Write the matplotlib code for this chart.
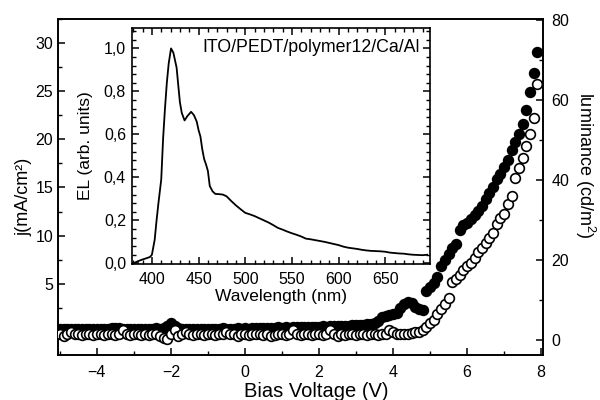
import matplotlib
matplotlib.use("Agg")
import matplotlib.pyplot as plt
from matplotlib.ticker import MultipleLocator, FuncFormatter

plt.rcParams["font.family"] = ["Liberation Sans", "DejaVu Sans"]
plt.rcParams["mathtext.fontset"] = "custom"
plt.rcParams["mathtext.rm"] = "Liberation Sans"

# bias sweep (V), 0.1 V steps
voltage = [
    -5.0, -4.9, -4.8, -4.7, -4.6, -4.5, -4.4, -4.3, -4.2, -4.1,
    -4.0, -3.9, -3.8, -3.7, -3.6, -3.5, -3.4, -3.3, -3.2, -3.1,
    -3.0, -2.9, -2.8, -2.7, -2.6, -2.5, -2.4, -2.3, -2.2, -2.1,
    -2.0, -1.9, -1.8, -1.7, -1.6, -1.5, -1.4, -1.3, -1.2, -1.1,
    -1.0, -0.9, -0.8, -0.7, -0.6, -0.5, -0.4, -0.3, -0.2, -0.1,
    0.0, 0.1, 0.2, 0.3, 0.4, 0.5, 0.6, 0.7, 0.8, 0.9,
    1.0, 1.1, 1.2, 1.3, 1.4, 1.5, 1.6, 1.7, 1.8, 1.9,
    2.0, 2.1, 2.2, 2.3, 2.4, 2.5, 2.6, 2.7, 2.8, 2.9,
    3.0, 3.1, 3.2, 3.3, 3.4, 3.5, 3.6, 3.7, 3.8, 3.9,
    4.0, 4.1, 4.2, 4.3, 4.4, 4.5, 4.6, 4.7, 4.8, 4.9,
    5.0, 5.1, 5.2, 5.3, 5.4, 5.5, 5.6, 5.7, 5.8, 5.9,
    6.0, 6.1, 6.2, 6.3, 6.4, 6.5, 6.6, 6.7, 6.8, 6.9,
    7.0, 7.1, 7.2, 7.3, 7.4, 7.5, 7.6, 7.7, 7.8, 7.9,
]

# current density j (mA/cm2), filled circles
current = [
    0.3, 0.35, 0.3, 0.3, 0.35, 0.3, 0.3, 0.35, 0.3, 0.3,
    0.3, 0.35, 0.3, 0.35, 0.4, 0.45, 0.4, 0.35, 0.3, 0.35,
    0.35, 0.3, 0.35, 0.3, 0.3, 0.35, 0.4, 0.35, 0.4, 0.6,
    0.9, 0.6, 0.4, 0.35, 0.3, 0.35, 0.3, 0.35, 0.3, 0.35,
    0.3, 0.35, 0.3, 0.35, 0.4, 0.35, 0.3, 0.35, 0.4, 0.35,
    0.4, 0.35, 0.4, 0.45, 0.4, 0.4, 0.45, 0.4, 0.45, 0.5,
    0.45, 0.5, 0.45, 0.5, 0.55, 0.5, 0.5, 0.55, 0.5, 0.55,
    0.55, 0.6, 0.55, 0.6, 0.6, 0.65, 0.6, 0.65, 0.65, 0.7,
    0.7, 0.75, 0.75, 0.8, 0.85, 0.9, 1.1, 1.5, 1.7, 1.8,
    1.9, 2.0, 2.5, 2.9, 3.1, 3.0, 2.6, 2.4, 2.3, 4.2,
    4.7, 5.1, 5.7, 6.8, 7.5, 8.1, 8.7, 9.1, 10.6, 11.1,
    11.3, 11.7, 12.1, 12.6, 13.1, 13.8, 14.4, 15.0, 15.9, 16.4,
    17.1, 17.9, 18.9, 19.7, 20.6, 21.6, 23.0, 24.9, 26.9, 29.1,
]

# luminance (cd/m2), open circles
luminance = [
    1.5, 1.0, 1.5, 2.0, 1.5, 1.5, 1.2, 1.5, 1.5, 1.2,
    1.5, 1.5, 1.2, 1.5, 1.5, 1.2, 1.5, 2.5, 1.5, 1.2,
    1.5, 1.5, 1.2, 1.5, 1.2, 1.5, 1.5, 1.0, 0.5, 0.3,
    1.5, 2.5, 1.0, 1.5, 2.0, 1.5, 1.2, 1.5, 1.5, 1.2,
    1.5, 1.5, 1.2, 1.5, 1.5, 2.0, 1.5, 1.5, 1.0, 1.5,
    1.5, 1.2, 1.5, 1.5, 1.5, 1.2, 1.5, 1.0, 1.2, 1.5,
    1.5, 1.2, 1.5, 2.5, 1.5, 1.2, 1.5, 1.5, 1.2, 1.5,
    1.5, 1.2, 1.5, 2.5, 1.5, 1.0, 1.5, 1.2, 1.5, 1.5,
    1.2, 1.5, 1.5, 1.2, 1.5, 1.5, 1.2, 1.5, 1.5, 2.5,
    2.0, 1.5, 1.5, 1.5, 1.5, 1.8, 2.0, 2.1, 2.6, 3.3,
    4.2, 5.0, 6.5, 7.7, 9.0, 10.5, 14.5, 15.3, 16.3, 17.5,
    18.4, 19.3, 20.5, 22.0, 23.0, 24.3, 25.6, 26.8, 29.0, 30.5,
    31.5, 34.0, 36.0, 40.5, 43.0, 45.5, 48.5, 51.5, 55.5, 64.0,
]

# electroluminescence spectrum (inset)
wavelength = [
    380, 385, 390, 395, 398, 400, 403, 405, 407, 410, 412, 414, 416, 418,
    420.5, 423, 426.5, 428, 430, 432, 435, 438, 442, 445, 448, 450, 452,
    454, 456, 458, 460, 462, 465, 468, 472, 476, 480, 485, 490, 495, 500,
    505, 510, 515, 520, 525, 530, 535, 540, 545, 550, 555, 560, 565, 570,
    575, 580, 585, 590, 595, 600, 605, 610, 615, 620, 625, 630, 635, 640,
    645, 650, 655, 660, 665, 670, 675, 680, 685, 690, 695,
]
el = [
    0.0, 0.01, 0.018, 0.025, 0.03, 0.04, 0.11, 0.2, 0.28, 0.39, 0.58, 0.72,
    0.84, 0.93, 1.0, 0.98, 0.91, 0.84, 0.75, 0.70, 0.665, 0.685, 0.705,
    0.69, 0.66, 0.62, 0.59, 0.53, 0.485, 0.46, 0.43, 0.36, 0.335, 0.323,
    0.322, 0.32, 0.312, 0.29, 0.27, 0.252, 0.235, 0.228, 0.22, 0.21, 0.2,
    0.19, 0.178, 0.165, 0.157, 0.148, 0.14, 0.133, 0.125, 0.115, 0.112,
    0.108, 0.104, 0.1, 0.095, 0.09, 0.085, 0.078, 0.073, 0.07, 0.067,
    0.063, 0.06, 0.058, 0.057, 0.056, 0.054, 0.05, 0.048, 0.046, 0.045,
    0.042, 0.04, 0.039, 0.038, 0.04,
]

fig = plt.figure(figsize=(6, 4), dpi=100)
ax = fig.add_axes([0.0967, 0.1125, 0.8083, 0.84])
ax2 = ax.twinx()

ax.plot(voltage, current, "o", ms=7, color="black", mec="black", mew=1.2, zorder=2)
ax2.plot(voltage, luminance, "o", ms=7, mfc="white", mec="black", mew=1.2, zorder=3)

ax.set_xlim(-5.05, 8.05)
ax.set_ylim(-2.4, 32.5)
ax2.set_ylim(-3.75, 80.25)

ax.set_xticks([-4, -2, 0, 2, 4, 6, 8])
ax.xaxis.set_minor_locator(MultipleLocator(1))
ax.set_yticks([5, 10, 15, 20, 25, 30])
ax.yaxis.set_minor_locator(MultipleLocator(2.5))
ax2.set_yticks([0, 20, 40, 60, 80])
ax2.yaxis.set_minor_locator(MultipleLocator(10))

for a in (ax, ax2):
    a.tick_params(which="major", direction="in", length=5, width=1.1, labelsize=11.5)
    a.tick_params(which="minor", direction="in", length=3, width=1.0)
    for s in a.spines.values():
        s.set_linewidth(1.2)
ax.tick_params(axis="x", which="both", top=False)
ax.tick_params(axis="x", which="major", pad=7)
ax2.tick_params(axis="y", which="major", pad=6)

ax.set_xlabel("Bias Voltage (V)", fontsize=14.5)
ax.xaxis.set_label_coords(0.533, -0.08)
ax.set_ylabel("j(mA/cm²)", fontsize=13)
ax.yaxis.set_label_coords(-0.053, 0.47)
ax2.set_ylabel("luminance (cd/m$^2$)", fontsize=13, rotation=270, va="center")
ax2.yaxis.set_label_coords(1.087, 0.565)

# inset: EL spectrum
ins = fig.add_axes([0.2205, 0.34, 0.4962, 0.59])
ins.plot(wavelength, el, color="black", lw=1.3)
ins.set_xlim(379, 698)
ins.set_ylim(-0.003, 1.095)
ins.set_xticks([400, 450, 500, 550, 600, 650])
ins.xaxis.set_minor_locator(MultipleLocator(10))
ins.set_yticks([0.0, 0.2, 0.4, 0.6, 0.8, 1.0])
ins.yaxis.set_minor_locator(MultipleLocator(0.04))
ins.yaxis.set_major_formatter(FuncFormatter(lambda v, p: f"{v:.1f}".replace(".", ",")))
ins.tick_params(which="major", direction="in", length=5, width=1.1, labelsize=11.5,
                top=True, right=True)
ins.tick_params(which="minor", direction="in", length=3, width=1.0, top=True, right=True)
ins.tick_params(axis="x", which="major", pad=6)
ins.tick_params(axis="y", which="major", pad=4.5)
for s in ins.spines.values():
    s.set_linewidth(1.2)
ins.set_xlabel("Wavelength (nm)", fontsize=12.5, labelpad=1)
ins.set_ylabel("EL (arb. units)", fontsize=12.5, labelpad=8)
ins.text(0.965, 0.917, "ITO/PEDT/polymer12/Ca/Al", transform=ins.transAxes,
         ha="right", va="center", fontsize=12.8)

fig.savefig("out.png", dpi=100)
